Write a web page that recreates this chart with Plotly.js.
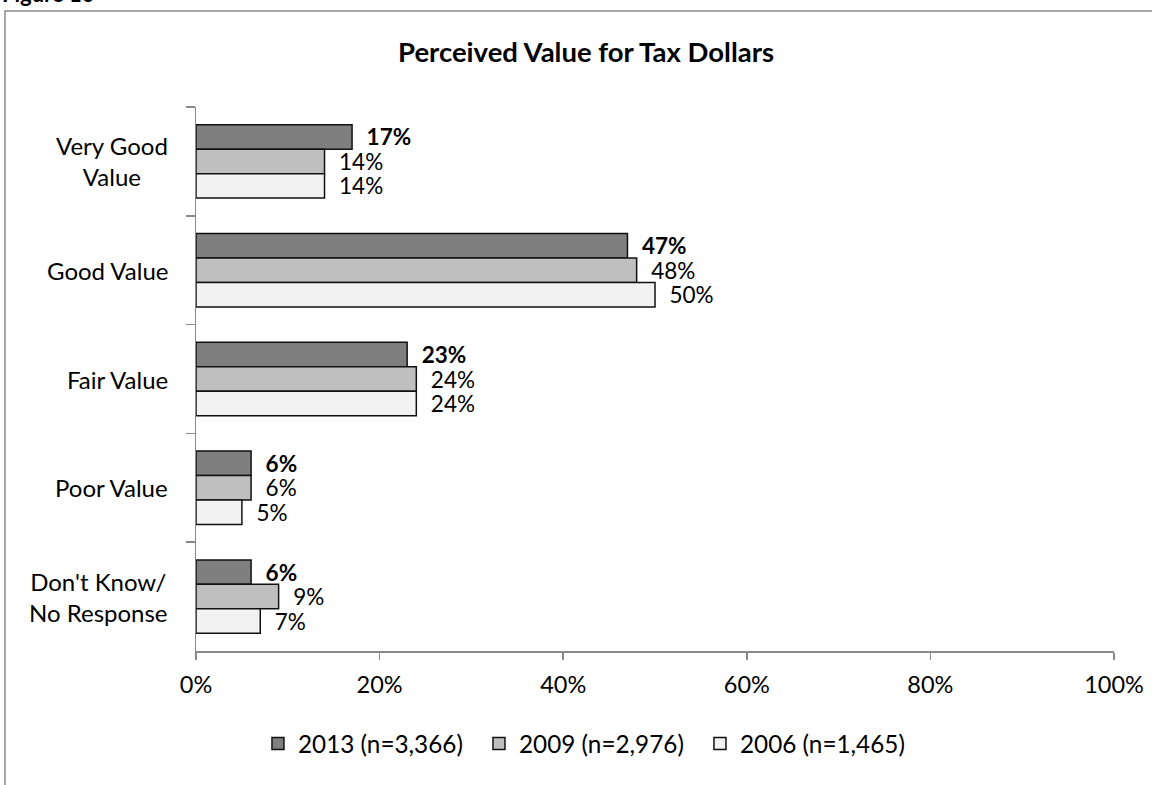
<!DOCTYPE html>
<html>
<head>
<meta charset="utf-8">
<script src="https://cdn.plot.ly/plotly-3.0.1.min.js"></script>
<style>html,body{margin:0;padding:0;background:#fff;}#chart{width:1152px;height:785px;}</style>
</head>
<body>
<div id="chart"></div>
<script>
// ---- data ----
var categories = ['Very Good<br>Value', 'Good Value', 'Fair Value', 'Poor Value', "Don't Know/<br>No Response"];
var seriesNames = ['2013 (n=3,366)', '2009 (n=2,976)', '2006 (n=1,465)'];
var values2013 = [17, 47, 23, 6, 6];
var values2009 = [14, 48, 24, 6, 9];
var values2006 = [14, 50, 24, 5, 7];
var xTickValues = [0, 20, 40, 60, 80, 100];
var xTickLabels = ['0%', '20%', '40%', '60%', '80%', '100%'];
var chartTitle = 'Perceived Value for Tax Dollars';
var figureLabel = 'Figure 10';

// ---- styles ----
var FONT = 'Lato, "Open Sans", sans-serif';
var fills = ['#7f7f7f', '#bfbfbf', '#f2f2f2'];
var pad = '\u00a0\u00a0';

function labelTexts(vals, bold) {
  return vals.map(function (v) { return pad + (bold ? '<b>' + v + '%</b>' : v + '%'); });
}

var allVals = [values2013, values2009, values2006];
var traces = allVals.map(function (vals, i) {
  return {
    type: 'bar',
    orientation: 'h',
    name: seriesNames[i],
    y: categories,
    x: vals,
    text: labelTexts(vals, i === 0),
    textposition: 'outside',
    textfont: {family: FONT, size: 22.5, color: '#000'},
    constraintext: 'none',
    cliponaxis: false,
    hoverinfo: 'skip',
    marker: {color: fills[i], line: {color: '#111', width: 1.5}}
  };
});

var annotations = categories.map(function (c) {
  return {
    xref: 'paper', yref: 'y', x: 0, y: c,
    xanchor: 'right', yanchor: 'middle', xshift: -26,
    text: c, showarrow: false, align: 'center',
    font: {family: FONT, size: 24, color: '#000'}
  };
});
annotations.push({
  xref: 'paper', yref: 'paper', x: -0.2135, y: 1.181,
  xanchor: 'left', yanchor: 'bottom', showarrow: false,
  text: '<b>' + figureLabel + '</b>',
  font: {family: FONT, size: 22, color: '#000'}
});

var layout = {
  width: 1152, height: 785,
  margin: {l: 196, r: 38, t: 107, b: 134},
  paper_bgcolor: '#fff', plot_bgcolor: '#fff',
  barmode: 'group', bargap: 0.325, bargroupgap: 0,
  showlegend: true,
  title: {
    text: '<b>' + chartTitle + '</b>',
    x: 0.5087, xref: 'container', xanchor: 'center',
    y: 0.9338, yref: 'container', yanchor: 'middle',
    font: {family: FONT, size: 27.5, color: '#000'}
  },
  xaxis: {
    range: [0, 100], tickmode: 'array', tickvals: xTickValues, ticktext: xTickLabels,
    showline: true, linecolor: '#898989', linewidth: 1.5,
    ticks: 'outside', ticklen: 7, tickwidth: 1.5, tickcolor: '#898989',
    ticklabelstandoff: 5,
    showgrid: false, zeroline: false, fixedrange: true,
    tickfont: {family: FONT, size: 23.5, color: '#000'}
  },
  yaxis: {
    type: 'category', range: [4.5, -0.5],
    showticklabels: false, tickson: 'boundaries',
    showline: true, linecolor: '#898989', linewidth: 1.5,
    ticks: 'outside', ticklen: 9, tickwidth: 1.5, tickcolor: '#898989',
    showgrid: false, zeroline: false, fixedrange: true
  },
  legend: {
    orientation: 'h', x: 0.0675, xanchor: 'left', y: -0.129, yanchor: 'top',
    entrywidth: 176, traceorder: 'normal',
    font: {family: FONT, size: 24.3, color: '#000'},
    bgcolor: 'rgba(0,0,0,0)'
  },
  annotations: annotations,
  shapes: [{
    type: 'rect', xref: 'paper', yref: 'paper',
    x0: -0.2081, x1: 1.06, y0: -0.3, y1: 1.1765,
    line: {color: '#8a8a8a', width: 1.5}, fillcolor: 'rgba(0,0,0,0)', layer: 'below'
  }]
};

Plotly.newPlot('chart', traces, layout, {displayModeBar: false, staticPlot: true});
</script>
</body>
</html>
